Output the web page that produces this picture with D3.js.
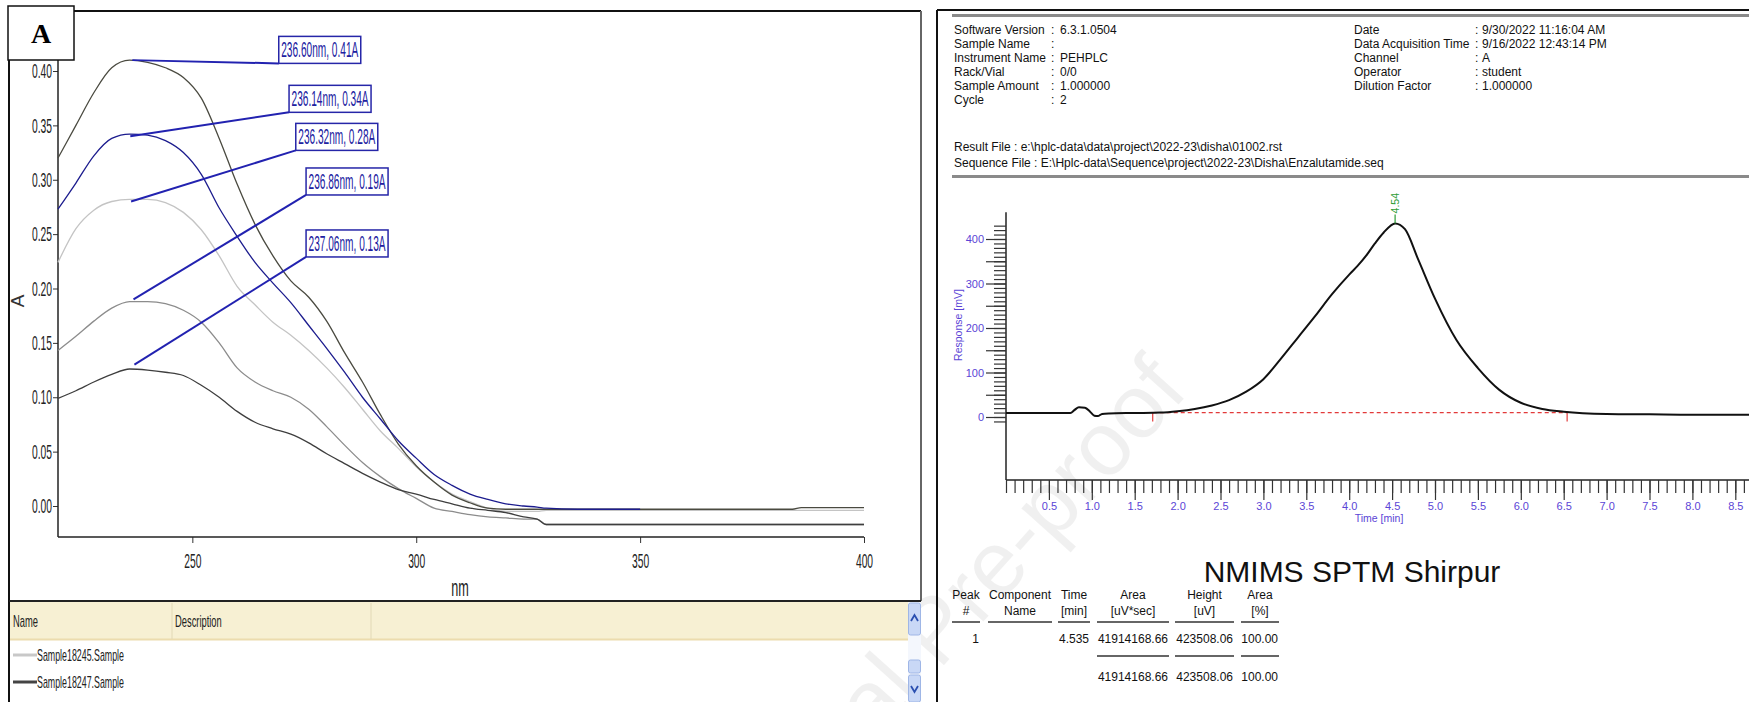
<!DOCTYPE html>
<html>
<head>
<meta charset="utf-8">
<script src="https://cdn.jsdelivr.net/npm/d3@7"></script>
<style>
  html, body { margin: 0; padding: 0; background: #fff; }
  svg { display: block; font-family: "Liberation Sans", Arial, sans-serif; }
</style>
</head>
<body>
<svg id="fig" width="1749" height="702"></svg>
<script>
// ---------------- UV overlay (panel A) ----------------
const specNm = [220, 224, 228, 232, 236, 240, 244, 248, 252, 256, 260, 264, 268, 272, 276, 280, 284, 288,
  292, 296, 300, 304, 308, 312, 316, 320, 324, 327, 329, 336, 350, 365, 384, 386, 400];
const absS1 = [.320, .350, .380, .403, .410, .408, .403, .394, .375, .338, .296, .259, .230, .207, .192, .170, .141, .114,
  .084, .057, .037, .022, .010, .003, -.002, -.003, -.003, -.003, -.003, -.003, -.003, -.003, -.003, -.0015, -.0015];
const absS2 = [.273, .297, .322, .338, .342, .341, .336, .325, .305, .274, .248, .224, .205, .187, .166, .145, .123, .100,
  .080, .060, .044, .029, .019, .011, .006, .002, .000, -.001, -.002, -.003, -.003, null, null, null, null];
const absS3 = [.224, .255, .272, .280, .282, .282, .279, .270, .254, .230, .202, .185, .169, .157, .143, .127, .109, .089,
  .069, .053, .036, .022, .011, .004, -.002, -.005, -.005, -.005, -.004, -.004, -.004, -.004, -.004, -.004, -.004];
const absS4 = [.143, .156, .170, .182, .188, .188, .186, .180, .169, .150, .127, .114, .106, .100, .089, .073, .056, .040,
  .027, .016, .007, -.002, -.005, -.008, -.010, -.011, -.012, -.012, -.017, -.017, -.017, -.017, -.017, -.017, -.017];
const absS5 = [.099, .106, .114, .121, .126, .125, .123, .120, .111, .100, .087, .077, .071, .066, .058, .048, .039, .030,
  .022, .015, .011, .006, .002, -.002, -.004, -.006, -.010, -.012, -.017, -.017, -.017, -.017, -.017, -.017, -.017];

const peakNm = [236.60, 236.14, 236.32, 236.86, 237.06];
const peakAbs = [0.41, 0.34, 0.28, 0.19, 0.13];
const absTicks = [0, 0.05, 0.10, 0.15, 0.20, 0.25, 0.30, 0.35, 0.40];
const nmTicks = [250, 300, 350, 400];
const legendNames = ['Sample18245.Sample', 'Sample18247.Sample'];

// ---------------- HPLC chromatogram (right panel) ----------------
const chromTime = [0, 0.5, 0.75, 0.8, 0.85, 0.92, 0.98, 1.03, 1.07, 1.12, 1.2, 1.5, 1.8, 2.0, 2.2, 2.4, 2.6, 2.8,
  3.0, 3.2, 3.4, 3.6, 3.8, 4.0, 4.1, 4.2, 4.3, 4.4, 4.535, 4.65, 4.8, 5.0, 5.25, 5.5, 5.75, 6.0, 6.25, 6.5,
  7.0, 7.5, 8.0, 8.75];
const chromResp = [9, 9, 9, 16, 22, 21, 12, 3, 2, 7, 8, 9, 10, 13, 18, 26, 38, 57,
  85, 130, 178, 226, 276, 320, 340, 363, 390, 414, 435, 422, 356, 266, 173, 110, 61, 32, 18, 12,
  7, 6, 5, 5];
const baseTime = [1.71, 6.54];
const baseResp = [10, 10];
const peakRt = 4.535;
const peakLabel = '4.54';
const respTicks = [0, 100, 200, 300, 400];
const timeTicks = [0.5, 1.0, 1.5, 2.0, 2.5, 3.0, 3.5, 4.0, 4.5, 5.0, 5.5, 6.0, 6.5, 7.0, 7.5, 8.0, 8.5];

const headerLeft = [['Software Version', '6.3.1.0504'], ['Sample Name', ''], ['Instrument Name', 'PEHPLC'],
  ['Rack/Vial', '0/0'], ['Sample Amount', '1.000000'], ['Cycle', '2']];
const headerRight = [['Date', '9/30/2022 11:16:04 AM'], ['Data Acquisition Time', '9/16/2022 12:43:14 PM'],
  ['Channel', 'A'], ['Operator', 'student'], ['Dilution Factor', '1.000000']];
const fileLines = ['Result File : e:\\hplc-data\\data\\project\\2022-23\\disha\\01002.rst',
  'Sequence File : E:\\Hplc-data\\Sequence\\project\\2022-23\\Disha\\Enzalutamide.seq'];
const tableHead1 = ['Peak', 'Component', 'Time', 'Area', 'Height', 'Area'];
const tableHead2 = ['#', 'Name', '[min]', '[uV*sec]', '[uV]', '[%]'];
const tableRow = ['1', '', '4.535', '41914168.66', '423508.06', '100.00'];
const tableTotal = ['', '', '', '41914168.66', '423508.06', '100.00'];

const svg = d3.select('#fig');
const SANS = '"Liberation Sans", Arial, sans-serif';

// squeeze real text horizontally to mimic the narrow instrument font
function condense(sel, f) {
  sel.each(function () {
    const w = this.getComputedTextLength();
    this.setAttribute('textLength', w * f);
    this.setAttribute('lengthAdjust', 'spacingAndGlyphs');
  });
}

// watermark (runs off the lower edge, as in the source page)
svg.append('text')
  .attr('transform', 'translate(1190,392) rotate(-48)')
  .attr('text-anchor', 'end')
  .attr('font-size', 90)
  .attr('fill', '#000').attr('fill-opacity', 0.06)
  .text('Journal Pre-proof');

// ================= LEFT PANEL =================
const left = svg.append('g');
const x = d3.scaleLinear().domain([220, 400]).range([58, 864]);
const y = d3.scaleLinear().domain([0, 0.40]).range([506, 71]);

// frame
left.append('line').attr('x1', 9).attr('x2', 921).attr('y1', 11).attr('y2', 11).attr('stroke', '#111').attr('stroke-width', 2);
left.append('line').attr('x1', 9).attr('x2', 9).attr('y1', 11).attr('y2', 702).attr('stroke', '#111').attr('stroke-width', 2);
left.append('line').attr('x1', 921).attr('x2', 921).attr('y1', 11).attr('y2', 601).attr('stroke', '#666').attr('stroke-width', 2);
left.append('line').attr('x1', 9).attr('x2', 921).attr('y1', 601).attr('y2', 601).attr('stroke', '#222').attr('stroke-width', 2);

// axes
const yAxis = left.append('g').attr('transform', 'translate(58,0)')
  .call(d3.axisLeft(y).tickValues(absTicks).tickSize(5).tickSizeOuter(0).tickPadding(1).tickFormat(d3.format('.2f')));
yAxis.select('.domain').remove();
left.append('line').attr('x1', 58).attr('x2', 58).attr('y1', 40).attr('y2', 537).attr('stroke', '#222').attr('stroke-width', 1.5);
yAxis.selectAll('.tick line').attr('stroke', '#333');
yAxis.selectAll('.tick text').attr('font-size', 21).attr('fill', '#222').attr('font-family', SANS);
condense(yAxis.selectAll('.tick text'), 0.49);

const xAxis = left.append('g').attr('transform', 'translate(0,537)')
  .call(d3.axisBottom(x).tickValues(nmTicks).tickSize(6).tickSizeOuter(0));
xAxis.select('.domain').remove();
left.append('line').attr('x1', 58).attr('x2', 864).attr('y1', 537).attr('y2', 537).attr('stroke', '#222').attr('stroke-width', 1.5);
xAxis.selectAll('.tick line').attr('stroke', '#333');
xAxis.selectAll('.tick text').attr('y', 16).attr('font-size', 21).attr('fill', '#222').attr('font-family', SANS);
condense(xAxis.selectAll('.tick text'), 0.49);

const nmLab = left.append('text').attr('x', 460).attr('y', 596).attr('text-anchor', 'middle')
  .attr('font-size', 23).attr('fill', '#222').text('nm');
condense(nmLab, 0.55);
left.append('text').attr('transform', 'translate(24,301) rotate(-90)').attr('text-anchor', 'middle')
  .attr('font-size', 19).attr('fill', '#333').text('A');

// spectra
const specSeries = [
  { v: absS3, color: '#c4c4c4' },
  { v: absS4, color: '#8c8c8c' },
  { v: absS5, color: '#3e3e3e' },
  { v: absS1, color: '#4a4a40' },
  { v: absS2, color: '#1c1c8e' }
];
const specLine = d3.line()
  .defined(d => d[1] !== null)
  .x(d => x(d[0])).y(d => y(d[1]))
  .curve(d3.curveMonotoneX);
left.append('g').selectAll('path').data(specSeries).join('path')
  .attr('d', s => specLine(specNm.map((n, i) => [n, s.v[i]])))
  .attr('fill', 'none').attr('stroke', s => s.color).attr('stroke-width', 1.3);

// peak pick labels (anchor = lower-left corner of box, in data units)
const labelAnchor = [[269.3, 0.407], [271.6, 0.362], [273.1, 0.327], [275.4, 0.286], [275.4, 0.229]];
const boxW = 82, boxH = 27;
const picks = left.append('g');
peakNm.forEach((n, i) => {
  const ax = x(labelAnchor[i][0]), ay = y(labelAnchor[i][1]);
  picks.append('line').attr('x1', x(n)).attr('y1', y(peakAbs[i])).attr('x2', ax).attr('y2', ay)
    .attr('stroke', '#2222b0').attr('stroke-width', 2);
  picks.append('rect').attr('x', ax).attr('y', ay - boxH).attr('width', boxW).attr('height', boxH)
    .attr('fill', '#fff').attr('stroke', '#2626a8').attr('stroke-width', 1.5);
  picks.append('text').attr('x', ax + boxW / 2).attr('y', ay - 6).attr('text-anchor', 'middle')
    .attr('font-size', 22).attr('fill', '#2020a0')
    .attr('textLength', boxW - 5).attr('lengthAdjust', 'spacingAndGlyphs')
    .text(`${n.toFixed(2)}nm, ${peakAbs[i].toFixed(2)}A`);
});

// panel letter
left.append('rect').attr('x', 8).attr('y', 6).attr('width', 66).attr('height', 54)
  .attr('fill', '#fff').attr('stroke', '#111').attr('stroke-width', 1.5);
left.append('text').attr('x', 41).attr('y', 43).attr('text-anchor', 'middle')
  .attr('font-family', '"Liberation Serif", "DejaVu Serif", "Times New Roman", serif').attr('font-weight', 'bold')
  .attr('font-size', 28).attr('fill', '#000').text('A');

// legend list
left.append('rect').attr('x', 10).attr('y', 602).attr('width', 898).attr('height', 38).attr('fill', '#f7f0d3');
left.append('line').attr('x1', 10).attr('x2', 908).attr('y1', 639.5).attr('y2', 639.5).attr('stroke', '#ecdcae').attr('stroke-width', 2);
[172, 371].forEach(cxp => left.append('line').attr('x1', cxp).attr('x2', cxp).attr('y1', 603).attr('y2', 639)
  .attr('stroke', '#e2d9b6'));
const hdr = left.append('g').attr('font-size', 17).attr('fill', '#222');
condense(hdr.append('text').attr('x', 13).attr('y', 627).text('Name'), 0.55);
condense(hdr.append('text').attr('x', 175).attr('y', 627).text('Description'), 0.55);
const legColors = ['#c8c8c8', '#444'];
legendNames.forEach((nm, i) => {
  const ly = 655 + i * 27;
  left.append('line').attr('x1', 13).attr('x2', 37).attr('y1', ly).attr('y2', ly)
    .attr('stroke', legColors[i]).attr('stroke-width', 3);
  condense(left.append('text').attr('x', 37).attr('y', ly + 6).attr('font-size', 17).attr('fill', '#222').text(nm), 0.52);
});
// scrollbar
const sb = left.append('g');
sb.append('rect').attr('x', 908).attr('y', 602).attr('width', 13).attr('height', 100).attr('fill', '#f4f7fd');
sb.append('rect').attr('x', 908.5).attr('y', 603).attr('width', 12).attr('height', 32).attr('rx', 2)
  .attr('fill', '#c9d8f6').attr('stroke', '#9fb6e6');
sb.append('rect').attr('x', 908.5).attr('y', 660).attr('width', 12).attr('height', 13).attr('rx', 2)
  .attr('fill', '#c9d8f6').attr('stroke', '#9fb6e6');
sb.append('rect').attr('x', 908.5).attr('y', 675).attr('width', 12).attr('height', 27).attr('rx', 2)
  .attr('fill', '#c9d8f6').attr('stroke', '#9fb6e6');
sb.append('path').attr('d', 'M911,621 L914.5,615 L918,621').attr('fill', 'none').attr('stroke', '#2a4fb0').attr('stroke-width', 1.8);
sb.append('path').attr('d', 'M911,686 L914.5,692 L918,686').attr('fill', 'none').attr('stroke', '#2a4fb0').attr('stroke-width', 1.8);

// ================= RIGHT PANEL =================
const right = svg.append('g');
right.append('line').attr('x1', 937).attr('x2', 1749).attr('y1', 10).attr('y2', 10).attr('stroke', '#111').attr('stroke-width', 2);
right.append('line').attr('x1', 937).attr('x2', 937).attr('y1', 10).attr('y2', 702).attr('stroke', '#111').attr('stroke-width', 2);
[15.5, 176.5].forEach(ry => right.append('line').attr('x1', 952).attr('x2', 1749).attr('y1', ry).attr('y2', ry)
  .attr('stroke', '#8a8a8a').attr('stroke-width', 3));

const info = right.append('g').attr('font-size', 12).attr('fill', '#111');
headerLeft.forEach((r, i) => {
  const ty = 34 + i * 14;
  info.append('text').attr('x', 954).attr('y', ty).text(r[0]);
  info.append('text').attr('x', 1051).attr('y', ty).text(':');
  info.append('text').attr('x', 1060).attr('y', ty).text(r[1]);
});
headerRight.forEach((r, i) => {
  const ty = 34 + i * 14;
  info.append('text').attr('x', 1354).attr('y', ty).text(r[0]);
  info.append('text').attr('x', 1475).attr('y', ty).text(':');
  info.append('text').attr('x', 1482).attr('y', ty).text(r[1]);
});
fileLines.forEach((s, i) => info.append('text').attr('x', 954).attr('y', 151 + i * 16).text(s));

// chromatogram scales
const cx = d3.scaleLinear().domain([0, 8.75]).range([1006, 1006 + 8.75 * 85.8]);
const cy = d3.scaleLinear().domain([0, 400]).range([417, 239]);
const axisColor = '#5b45d6';

right.append('line').attr('x1', 1006).attr('x2', 1006).attr('y1', cy(460)).attr('y2', 480).attr('stroke', '#222').attr('stroke-width', 1.5);
right.append('line').attr('x1', 1006).attr('x2', 1749).attr('y1', 480).attr('y2', 480).attr('stroke', '#222').attr('stroke-width', 1.5);

const yMinor = right.append('g').attr('transform', 'translate(1006,0)')
  .call(d3.axisLeft(cy).tickValues(d3.range(-10, 431, 10)).tickSize(12).tickFormat(''));
const yMajor = right.append('g').attr('transform', 'translate(1006,0)')
  .call(d3.axisLeft(cy).tickValues(d3.range(0, 401, 50)).tickSize(20).tickPadding(2)
    .tickFormat(d => respTicks.includes(d) ? d : ''));
const xMinor = right.append('g').attr('transform', 'translate(0,480)')
  .call(d3.axisBottom(cx).tickValues(d3.range(0, 88).map(i => i / 10)).tickSize(13).tickFormat(''));
const xMajor = right.append('g').attr('transform', 'translate(0,480)')
  .call(d3.axisBottom(cx).tickValues(timeTicks).tickSize(20).tickPadding(2).tickFormat(d3.format('.1f')));
[yMinor, yMajor, xMinor, xMajor].forEach(g => {
  g.select('.domain').remove();
  g.selectAll('.tick line').attr('stroke', '#333').attr('stroke-width', 1.2);
  g.selectAll('.tick text').attr('fill', axisColor).attr('font-size', 11).attr('font-family', SANS);
});

right.append('text').attr('x', 1379).attr('y', 522).attr('text-anchor', 'middle')
  .attr('font-size', 10.5).attr('fill', axisColor).text('Time [min]');
right.append('text').attr('transform', 'translate(962,325) rotate(-90)').attr('text-anchor', 'middle')
  .attr('font-size', 10.5).attr('fill', axisColor).text('Response [mV]');

// integration baseline
right.append('line').attr('x1', cx(baseTime[0])).attr('x2', cx(baseTime[1]))
  .attr('y1', cy(baseResp[0])).attr('y2', cy(baseResp[1]))
  .attr('stroke', '#e23a3a').attr('stroke-width', 1.2).attr('stroke-dasharray', '4,3');
baseTime.forEach((t, i) => right.append('line').attr('x1', cx(t)).attr('x2', cx(t))
  .attr('y1', cy(baseResp[i])).attr('y2', cy(baseResp[i]) + 9).attr('stroke', '#e23a3a').attr('stroke-width', 1.2));

// trace
const chromLine = d3.line().x(d => cx(d[0])).y(d => cy(d[1])).curve(d3.curveMonotoneX);
right.append('path').attr('d', chromLine(chromTime.map((t, i) => [t, chromResp[i]])))
  .attr('fill', 'none').attr('stroke', '#111').attr('stroke-width', 2);

// peak label
const pTop = cy(d3.max(chromResp));
right.append('line').attr('x1', cx(peakRt)).attr('x2', cx(peakRt)).attr('y1', pTop).attr('y2', pTop - 9)
  .attr('stroke', '#2f9d35').attr('stroke-width', 1.2);
right.append('text').attr('transform', `translate(${cx(peakRt) + 3.5},${pTop - 10}) rotate(-90)`)
  .attr('font-size', 10.5).attr('fill', '#2f9d35').text(peakLabel);

// title and results table
right.append('text').attr('x', 1352).attr('y', 582).attr('text-anchor', 'middle')
  .attr('font-size', 30).attr('fill', '#111').text('NMIMS SPTM Shirpur');

const colSpan = [[952, 980], [988, 1052], [1058, 1090], [1097, 1169], [1175, 1234], [1241, 1279]];
const tbl = right.append('g').attr('font-size', 12).attr('fill', '#111');
colSpan.forEach((c, i) => {
  const mid = (c[0] + c[1]) / 2;
  tbl.append('text').attr('x', mid).attr('y', 599).attr('text-anchor', 'middle').text(tableHead1[i]);
  tbl.append('text').attr('x', mid).attr('y', 615).attr('text-anchor', 'middle').text(tableHead2[i]);
  tbl.append('line').attr('x1', c[0]).attr('x2', c[1]).attr('y1', 622).attr('y2', 622).attr('stroke', '#333').attr('stroke-width', 1.5);
  tbl.append('text').attr('x', c[1] - 1).attr('y', 643).attr('text-anchor', 'end').text(tableRow[i]);
  if (tableTotal[i]) {
    tbl.append('line').attr('x1', c[0]).attr('x2', c[1]).attr('y1', 656).attr('y2', 656).attr('stroke', '#333').attr('stroke-width', 1.5);
    tbl.append('text').attr('x', c[1] - 1).attr('y', 681).attr('text-anchor', 'end').text(tableTotal[i]);
  }
});
</script>
</body>
</html>
